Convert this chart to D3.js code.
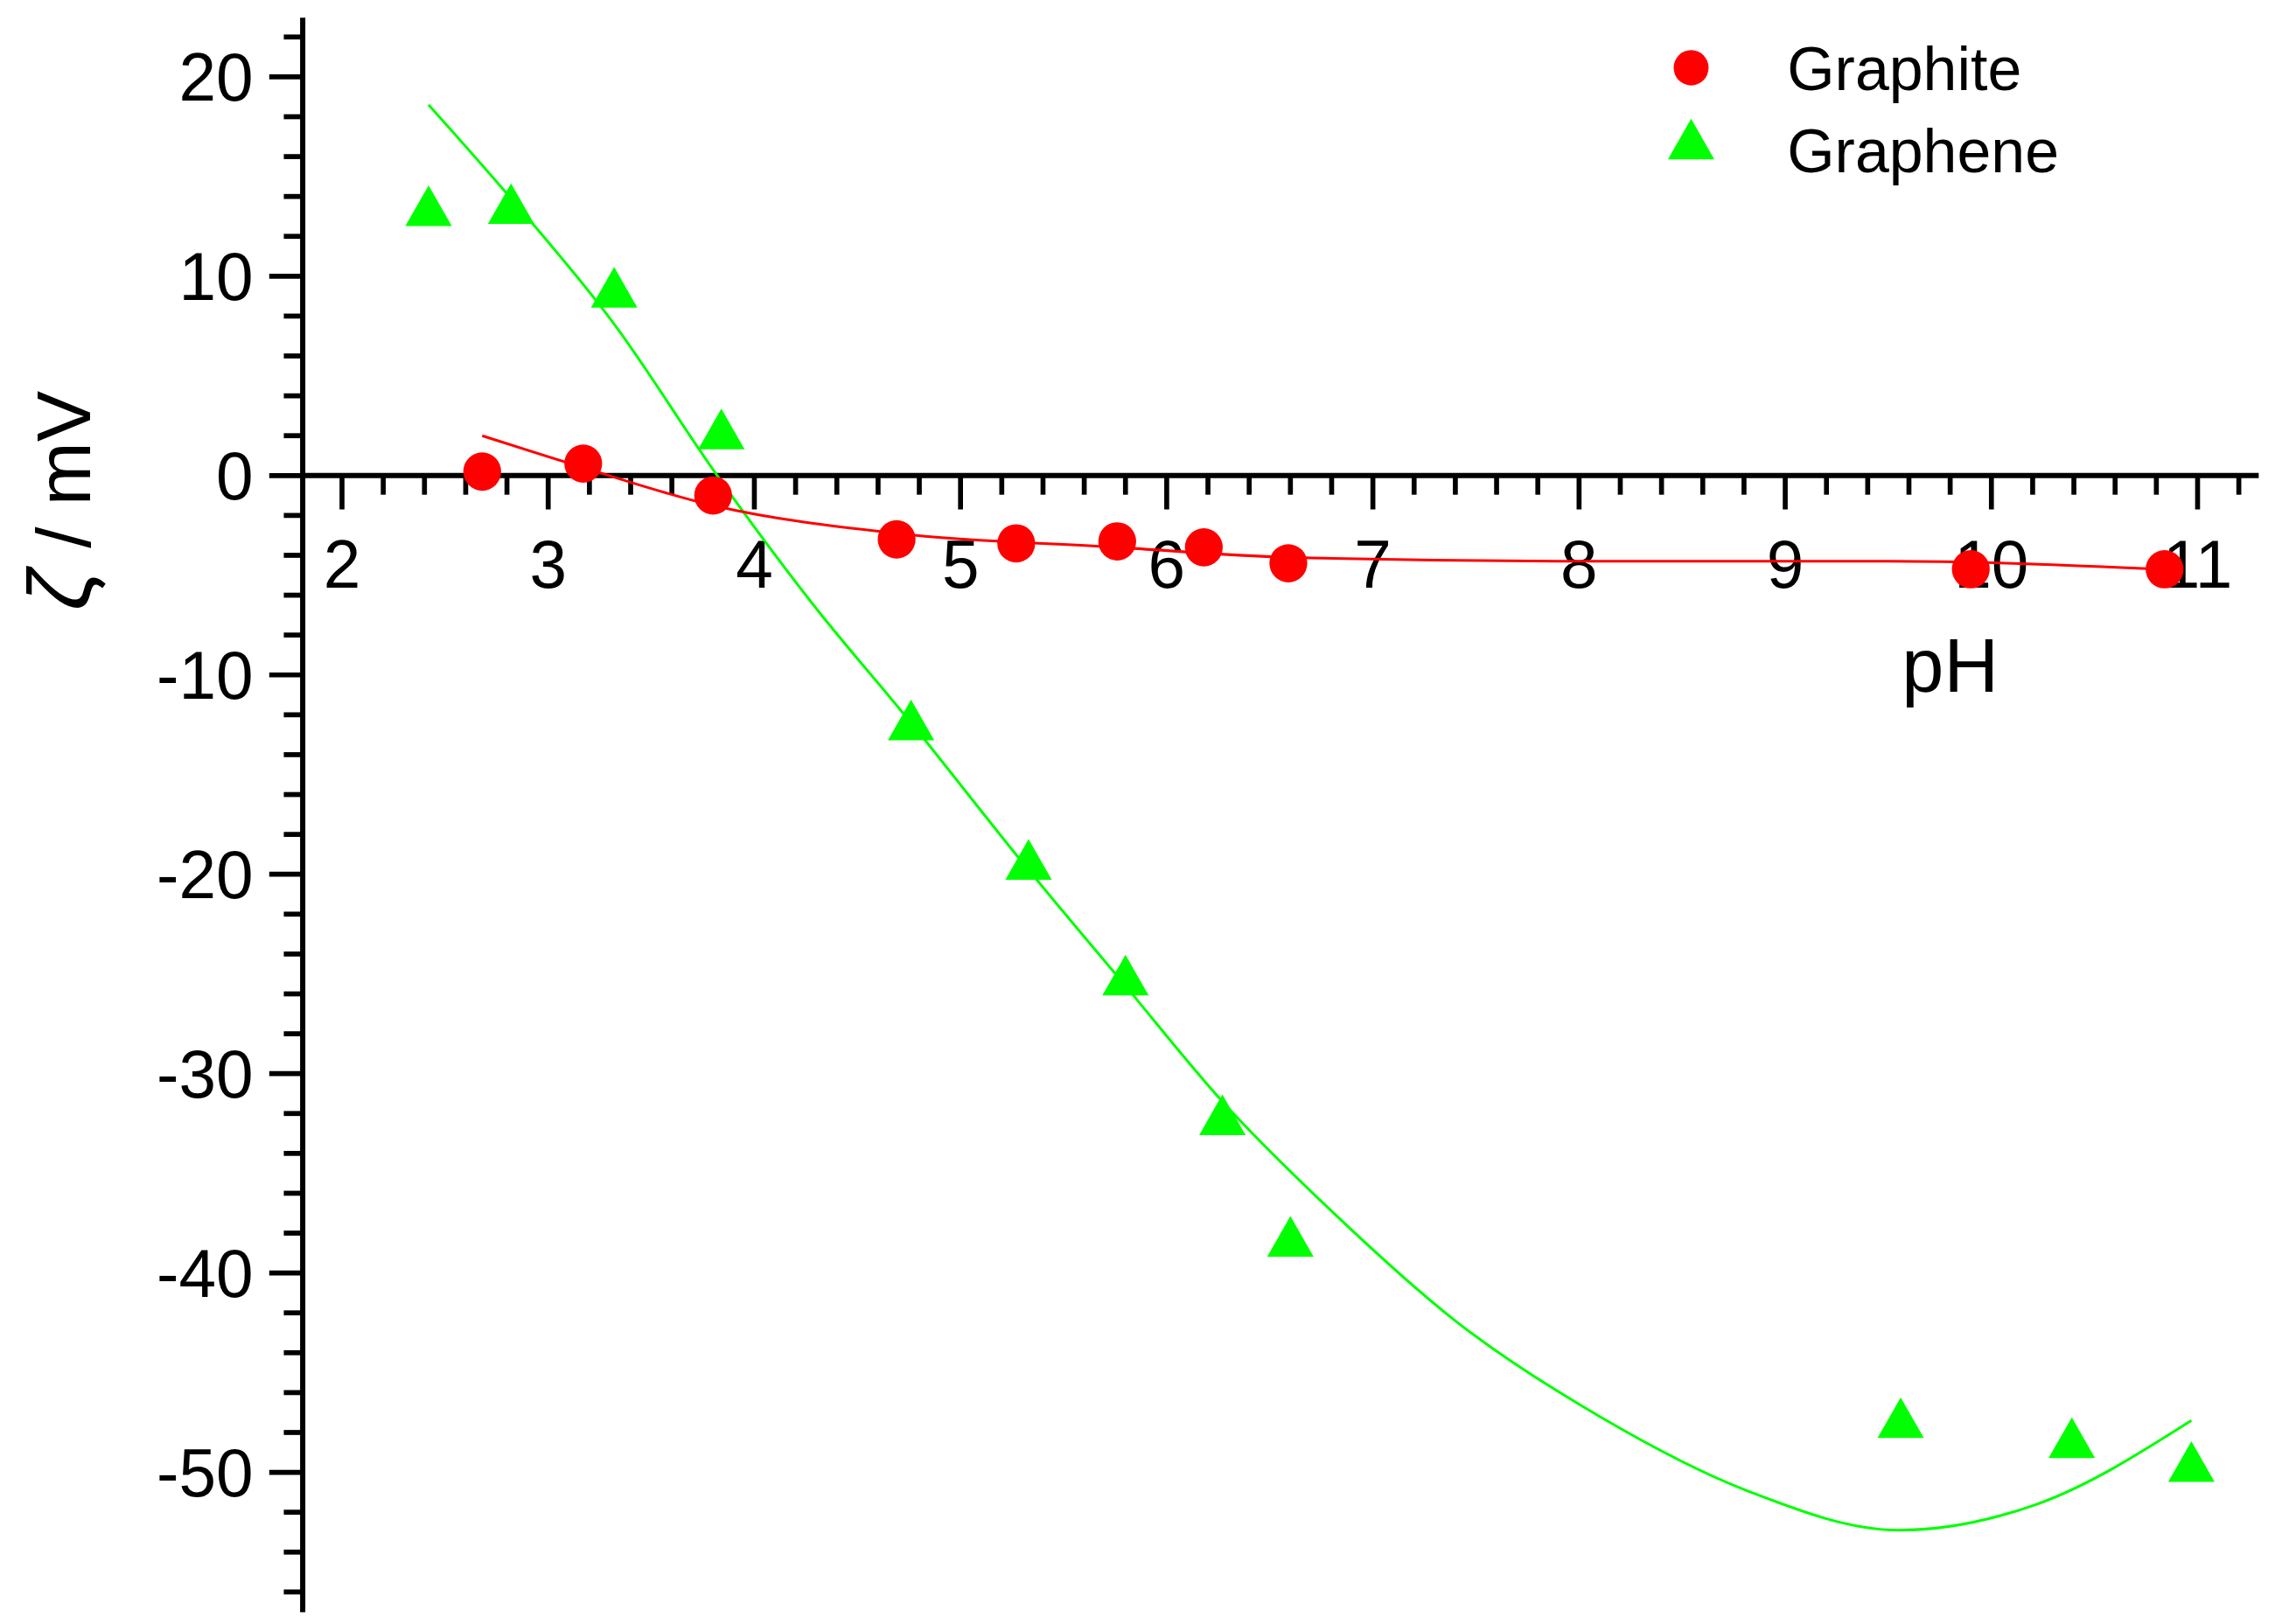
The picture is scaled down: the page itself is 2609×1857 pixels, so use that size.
<!DOCTYPE html>
<html><head><meta charset="utf-8">
<script src="https://cdn.jsdelivr.net/npm/d3@7"></script>
<style>html,body{margin:0;padding:0;background:#fff}</style>
</head><body>
<script>
const graphitePH = [2.68,3.17,3.80,4.69,5.27,5.76,6.18,6.59,9.90,10.84];
const graphiteZeta = [0.2,0.6,-1.0,-3.2,-3.4,-3.3,-3.6,-4.4,-4.7,-4.7];
const graphenePH = [2.42,2.82,3.32,3.84,4.76,5.33,5.80,6.27,6.60,9.56,10.39,10.97];
const grapheneZeta = [13.2,13.3,9.1,2.0,-12.6,-19.6,-25.4,-32.4,-38.5,-47.6,-48.6,-49.8];
const graphiteFitPH = [2.68,3.17,3.80,4.69,5.76,6.59,8.1,9.5,10.84];
const graphiteFitZeta = [2.0,0.4,-1.5,-2.9,-3.6,-4.1,-4.3,-4.3,-4.7];
const grapheneFitPH = [2.42,2.82,3.32,3.82,4.28,4.76,5.3,5.8,6.27,6.8,7.4,8.1,8.81,9.55,10.22,10.97];
const grapheneFitZeta = [18.6,13.9,7.6,0,-6.4,-12.4,-19.4,-25.6,-31.4,-36.9,-42.4,-47.2,-50.9,-52.9,-51.6,-47.4];
const xTicks = [2,3,4,5,6,7,8,9,10,11];
const yTicks = [20,10,0,-10,-20,-30,-40,-50];

const W=1568,H=1103;
const svg=d3.select("body").append("svg").attr("width",2609).attr("height",1857)
 .attr("viewBox",`0 0 ${W} ${H}`).attr("preserveAspectRatio","none")
 .style("font-family","'Liberation Sans',Arial,sans-serif");
const x=d3.scaleLinear().domain([2,11]).range([235,1510]);
const y=d3.scaleLinear().domain([0,-50]).range([323,1000]);
const ax=208, ay=y(0);
const g=svg.append("g");
g.append("line").attr("x1",ax).attr("x2",ax).attr("y1",12).attr("y2",1095).attr("stroke","#000").attr("stroke-width",3.6);
g.append("line").attr("x1",ax).attr("x2",1552).attr("y1",ay).attr("y2",ay).attr("stroke","#000").attr("stroke-width",3.6);
const xMinor=d3.range(1.8,11.4,0.2).filter(v=>x(v)>ax+5&&x(v)<1552);
xMinor.forEach(v=>{const major=Math.abs(v-Math.round(v))<1e-6;
 g.append("line").attr("x1",x(v)).attr("x2",x(v)).attr("y1",ay).attr("y2",ay+(major?23:13)).attr("stroke","#000").attr("stroke-width",3.4);});
xTicks.forEach(v=>g.append("text").attr("x",x(v)).attr("y",ay+76).attr("text-anchor","middle").attr("font-size",46).text(v));
const yMinor=d3.range(-56,24,2).filter(v=>y(v)>14&&y(v)<1093);
yMinor.forEach(v=>{const major=v%10===0;
 g.append("line").attr("x1",ax).attr("x2",ax-(major?23:13)).attr("y1",y(v)).attr("y2",y(v)).attr("stroke","#000").attr("stroke-width",3.4);});
yTicks.forEach(v=>g.append("text").attr("x",174).attr("y",y(v)+16).attr("text-anchor","end").attr("font-size",46).text(v));
g.append("text").attr("x",1340).attr("y",470).attr("text-anchor","middle").attr("font-size",52).text("pH");
g.append("text").attr("transform","translate(62,340) rotate(-90)").attr("text-anchor","middle").attr("font-size",52)
 .html('<tspan font-style="italic" font-size="60">ζ</tspan> / mV');
const line=d3.line().x(d=>x(d[0])).y(d=>y(d[1])).curve(d3.curveMonotoneX);
g.append("path").attr("d",line(d3.zip(grapheneFitPH,grapheneFitZeta))).attr("fill","none").attr("stroke","#00ff00").attr("stroke-width",1.8);
g.append("path").attr("d",line(d3.zip(graphiteFitPH,graphiteFitZeta))).attr("fill","none").attr("stroke","#ff0000").attr("stroke-width",1.8);
const tri=d3.symbol().type(d3.symbolTriangle).size(440);
d3.zip(graphenePH,grapheneZeta).forEach(d=>g.append("path").attr("d",tri()).attr("transform",`translate(${x(d[0])},${y(d[1])})`).attr("fill","#00ff00"));
d3.zip(graphitePH,graphiteZeta).forEach(d=>g.append("circle").attr("cx",x(d[0])).attr("cy",y(d[1])).attr("r",13).attr("fill","#ff0000"));
g.append("circle").attr("cx",1162).attr("cy",46).attr("r",12).attr("fill","#ff0000");
g.append("path").attr("d",tri()).attr("transform","translate(1162,99)").attr("fill","#00ff00");
g.append("text").attr("x",1228).attr("y",61).attr("font-size",42).text("Graphite");
g.append("text").attr("x",1228).attr("y",117).attr("font-size",42).text("Graphene");
</script>
</body></html>
